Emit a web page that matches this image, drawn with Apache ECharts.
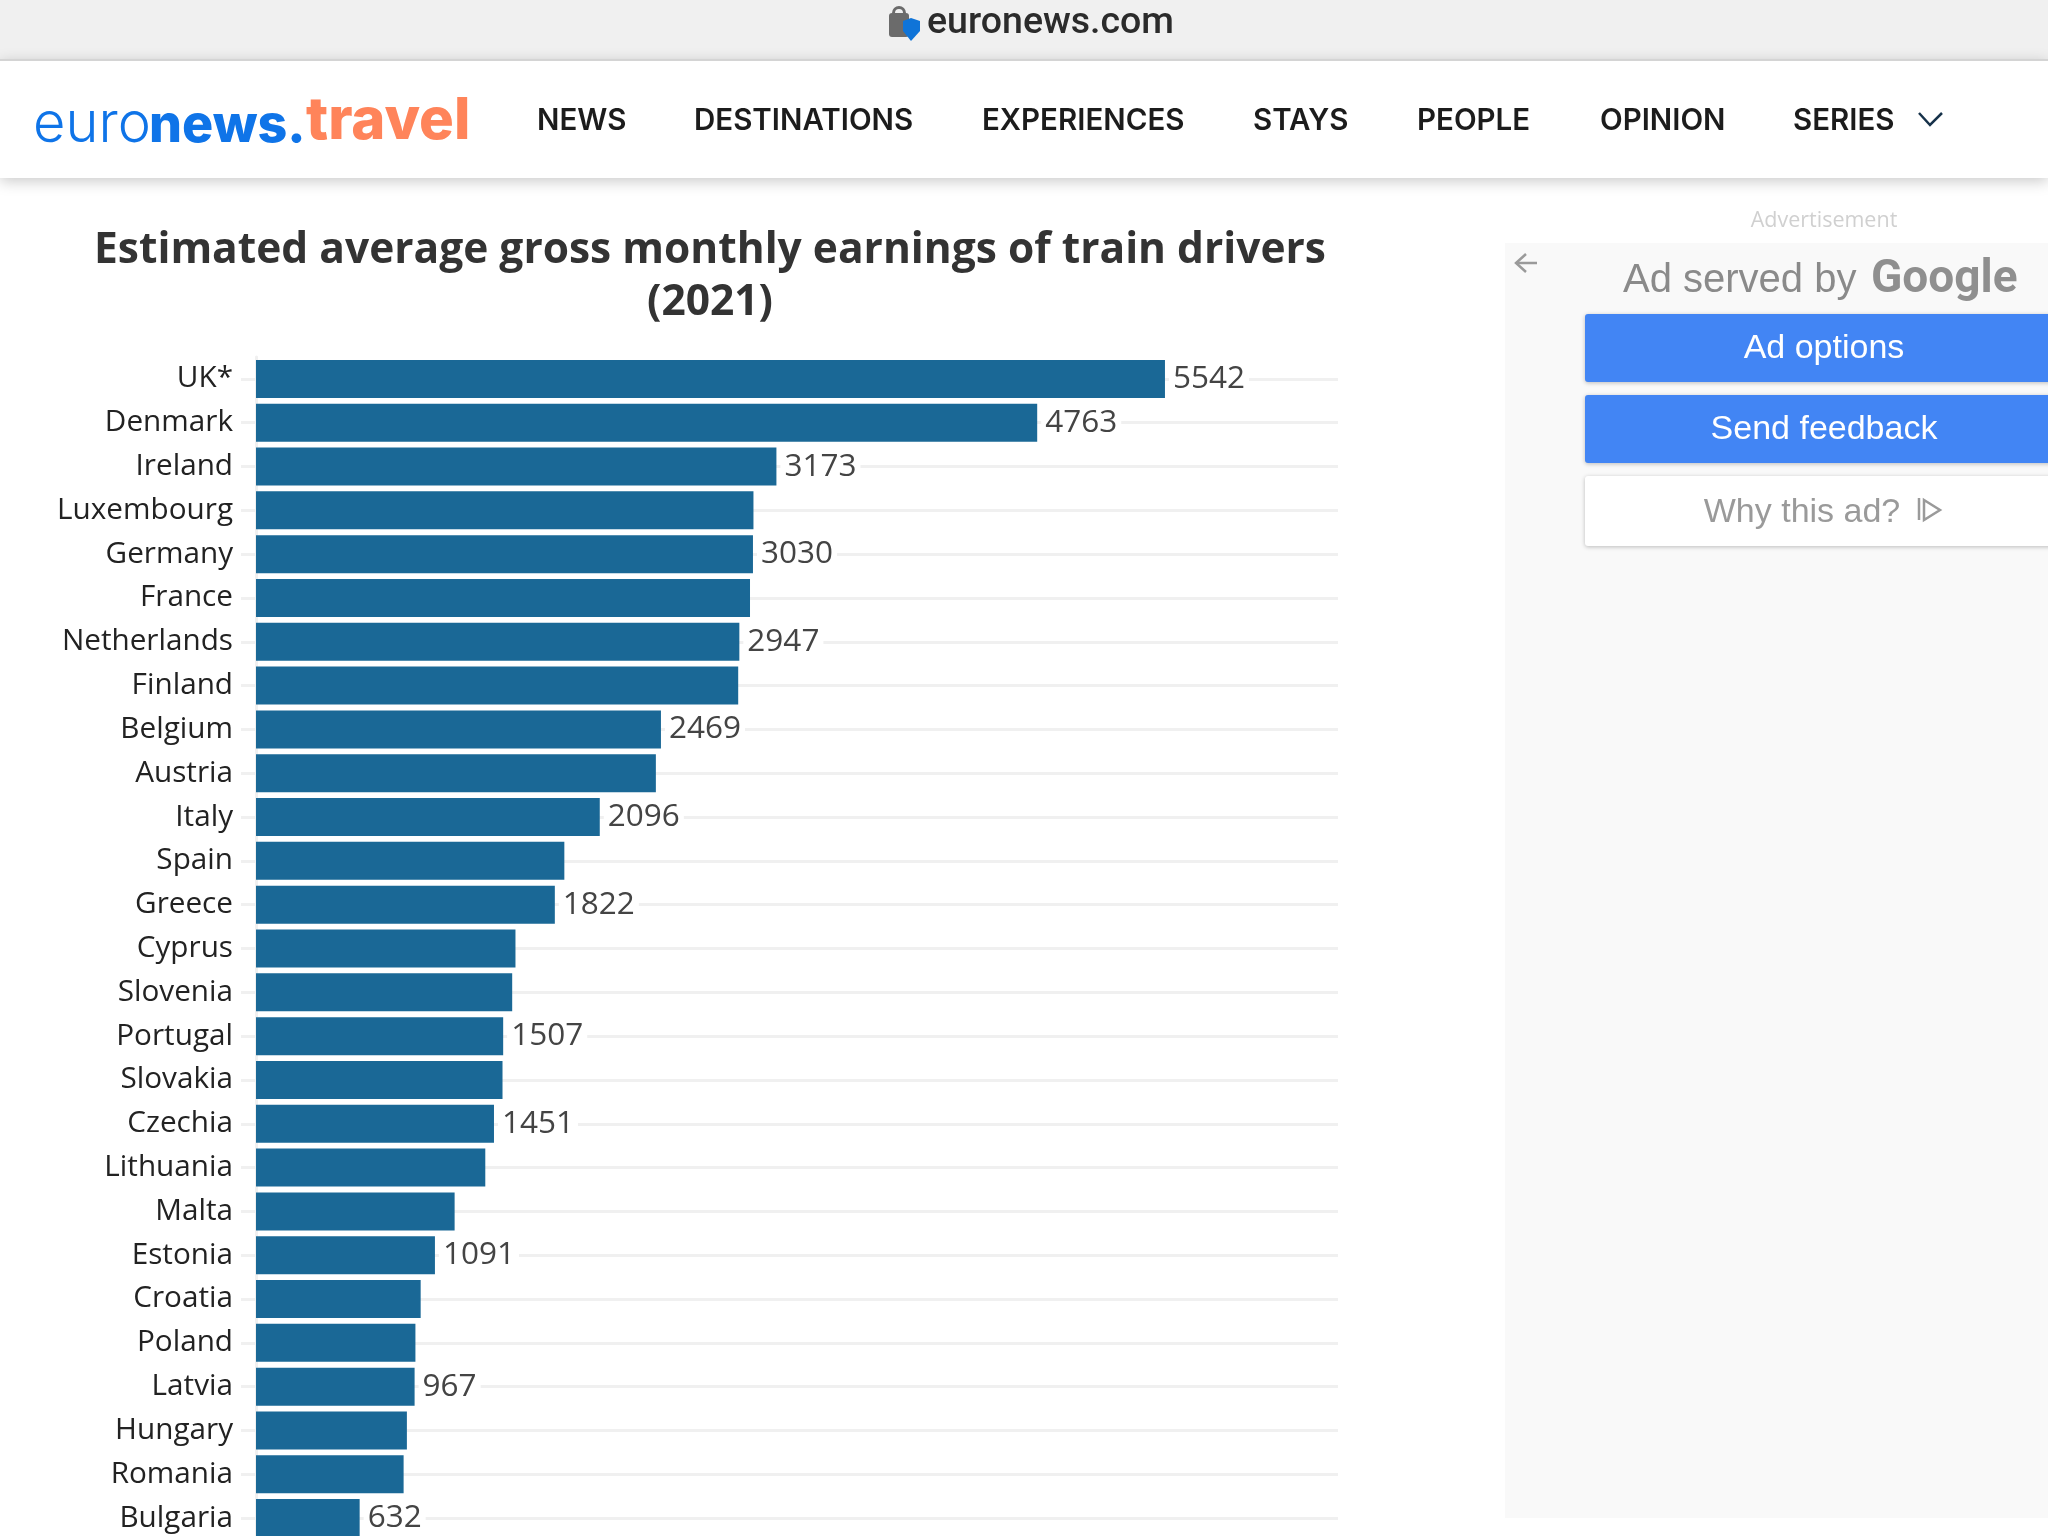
<!DOCTYPE html>
<html>
<head>
    <meta charset="utf-8">
    <title>Train drivers earnings</title>
    <style type="text/css">
        html, body { margin: 0; padding: 0; height: 100%; background: #fff; }
        #main { width: 2048px; height: 1536px; }
    </style>
</head>
<body>
    <div id="main"></div>
    <script src="https://cdn.jsdelivr.net/npm/echarts@6/dist/echarts.min.js"></script>
    <script type="text/javascript">
        var titleText = 'Estimated average gross monthly earnings of train drivers\n(2021)';
        var countries = ['UK*', 'Denmark', 'Ireland', 'Luxembourg', 'Germany', 'France', 'Netherlands', 'Finland', 'Belgium',
            'Austria', 'Italy', 'Spain', 'Greece', 'Cyprus', 'Slovenia', 'Portugal', 'Slovakia', 'Czechia', 'Lithuania',
            'Malta', 'Estonia', 'Croatia', 'Poland', 'Latvia', 'Hungary', 'Romania', 'Bulgaria'];
        var earnings = [5542, 4763, 3173, 3033, 3030, 3012, 2947, 2940, 2469,
            2438, 2096, 1880, 1822, 1582, 1562, 1507, 1503, 1451, 1398,
            1211, 1091, 1004, 972, 967, 920, 900, 632];
        var labelledCountries = ['UK*', 'Denmark', 'Ireland', 'Germany', 'Netherlands', 'Belgium', 'Italy', 'Greece',
            'Portugal', 'Czechia', 'Estonia', 'Latvia', 'Bulgaria'];
        var navItems = [['NEWS', 537], ['DESTINATIONS', 694], ['EXPERIENCES', 982], ['STAYS', 1253], ['PEOPLE', 1417], ['OPINION', 1600], ['SERIES', 1793]];

        function txt(text, x, y, font, fill, align) {
            return { type: 'text', x: x, y: y, silent: true, style: { text: text, font: font, fill: fill, align: align || 'left', verticalAlign: 'middle' } };
        }
        function box(x, y, w, h, fill, extra) {
            var s = { fill: fill };
            for (var k in extra) s[k] = extra[k];
            return { type: 'rect', silent: true, shape: { x: x, y: y, width: w, height: h, r: 3 }, style: s };
        }
        function pathLine(points, color, width) {
            return { type: 'polyline', silent: true, shape: { points: points }, style: { stroke: color, lineWidth: width, fill: null } };
        }

        var furniture = [
            // browser bar
            { type: 'rect', silent: true, shape: { x: 0, y: 0, width: 2048, height: 60 }, style: { fill: '#f0f0f0' } },
            { type: 'rect', silent: true, shape: { x: 0, y: 60, width: 2048, height: 118 }, style: { fill: '#fff', shadowBlur: 14, shadowColor: 'rgba(0,0,0,0.22)', shadowOffsetY: 3 } },
            { type: 'rect', silent: true, shape: { x: 0, y: 59, width: 2048, height: 2 }, style: { fill: '#d4d4d4' } },
            txt('euronews.com', 927, 24, '500 37.5px Roboto', '#2b2b2b'),
            // lock icon
            { type: 'rect', silent: true, shape: { x: 889, y: 13, width: 20, height: 24, r: 3 }, style: { fill: '#6b6b6b' } },
            { type: 'ring', silent: true, shape: { cx: 899, cy: 13, r: 7, r0: 4 }, style: { fill: '#6b6b6b' } },
            { type: 'polygon', silent: true, shape: { points: [[903, 21], [911, 18], [920, 21], [920, 31], [911, 41], [903, 31]] }, style: { fill: '#0f74d8' } },
            // logo
            txt('euro', 33, 125, '300 56px Inter', '#0f74e8'),
            txt('news.', 149, 126, '800 52px Inter', '#0f74e8'),
            txt('travel', 306, 122, '800 58px Inter', '#ff845a'),
            pathLine([[1919, 113], [1930, 125], [1942, 113]], '#17324a', 2.5),
            // ad panel
            { type: 'rect', silent: true, shape: { x: 1505, y: 243, width: 543, height: 1275 }, style: { fill: '#f9f9f9' } },
            txt('Advertisement', 1824, 221, '21.5px "Open Sans"', '#d0d0d0', 'center'),
            pathLine([[1526, 254], [1516, 263], [1526, 272]], '#9a9a9a', 2.5),
            pathLine([[1516, 263], [1537, 263]], '#9a9a9a', 2.5),
            txt('Ad served by', 1623, 281, '40px "Liberation Sans"', '#8a8a8a'),
            txt('Google', 1871, 280, '700 46px Roboto', '#8f8f8f'),
            box(1585, 314, 480, 68, '#4285f4', { shadowBlur: 4, shadowColor: 'rgba(0,0,0,0.25)', shadowOffsetY: 1 }),
            box(1585, 395, 480, 68, '#4285f4', { shadowBlur: 4, shadowColor: 'rgba(0,0,0,0.25)', shadowOffsetY: 1 }),
            box(1585, 476, 480, 70, '#ffffff', { shadowBlur: 4, shadowColor: 'rgba(0,0,0,0.25)', shadowOffsetY: 1 }),
            txt('Ad options', 1824, 349, '34px "Liberation Sans"', '#fff', 'center'),
            txt('Send feedback', 1824, 430, '34px "Liberation Sans"', '#fff', 'center'),
            txt('Why this ad?', 1802, 513, '34px "Liberation Sans"', '#9a9a9a', 'center'),
            { type: 'polygon', silent: true, shape: { points: [[1924, 500], [1940, 510], [1924, 520]] }, style: { fill: null, stroke: '#9a9a9a', lineWidth: 2.5 } },
            pathLine([[1919, 498], [1919, 520]], '#9a9a9a', 2.5)
        ];
        navItems.forEach(function (item) {
            furniture.push(txt(item[0], item[1], 121, '600 29.5px Inter', '#1c1c1c'));
        });

        var myChart = echarts.init(document.getElementById('main'));
        myChart.setOption({
            animation: false,
            backgroundColor: '#fff',
            title: {
                text: titleText,
                left: 705,
                top: 220,
                textAlign: 'center',
                textStyle: { fontFamily: 'Open Sans', fontWeight: 700, fontSize: 42.5, lineHeight: 52, color: '#333' }
            },
            grid: { left: 256, top: 357, width: 1082, height: 1183, outerBoundsMode: 'none' },
            xAxis: {
                type: 'value',
                min: 0,
                max: 6597,
                show: false
            },
            yAxis: {
                type: 'category',
                inverse: true,
                data: countries,
                axisLine: { show: true, lineStyle: { color: '#f0f0f0', width: 3 } },
                axisTick: { show: true, alignWithLabel: true, length: 15, lineStyle: { color: '#f0f0f0', width: 3 } },
                splitLine: { show: true, alignWithLabel: true, interval: 0, lineStyle: { color: '#f0f0f0', width: 3 } },
                axisLabel: { interval: 0, margin: 23, padding: [4, 0, 0, 0], fontFamily: 'Open Sans', fontSize: 29.7, color: '#222' }
            },
            series: [{
                type: 'bar',
                barWidth: 38,
                itemStyle: { color: '#1a6896' },
                label: {
                    show: true,
                    position: 'right',
                    distance: 4,
                    padding: [3, 4, 0, 4],
                    backgroundColor: '#fff',
                    fontFamily: 'Open Sans',
                    fontSize: 31.5,
                    color: '#444'
                },
                data: earnings.map(function (v, i) {
                    return { value: v, label: { show: labelledCountries.indexOf(countries[i]) >= 0 } };
                })
            }],
            graphic: { elements: furniture }
        });
    </script>
</body>
</html>
